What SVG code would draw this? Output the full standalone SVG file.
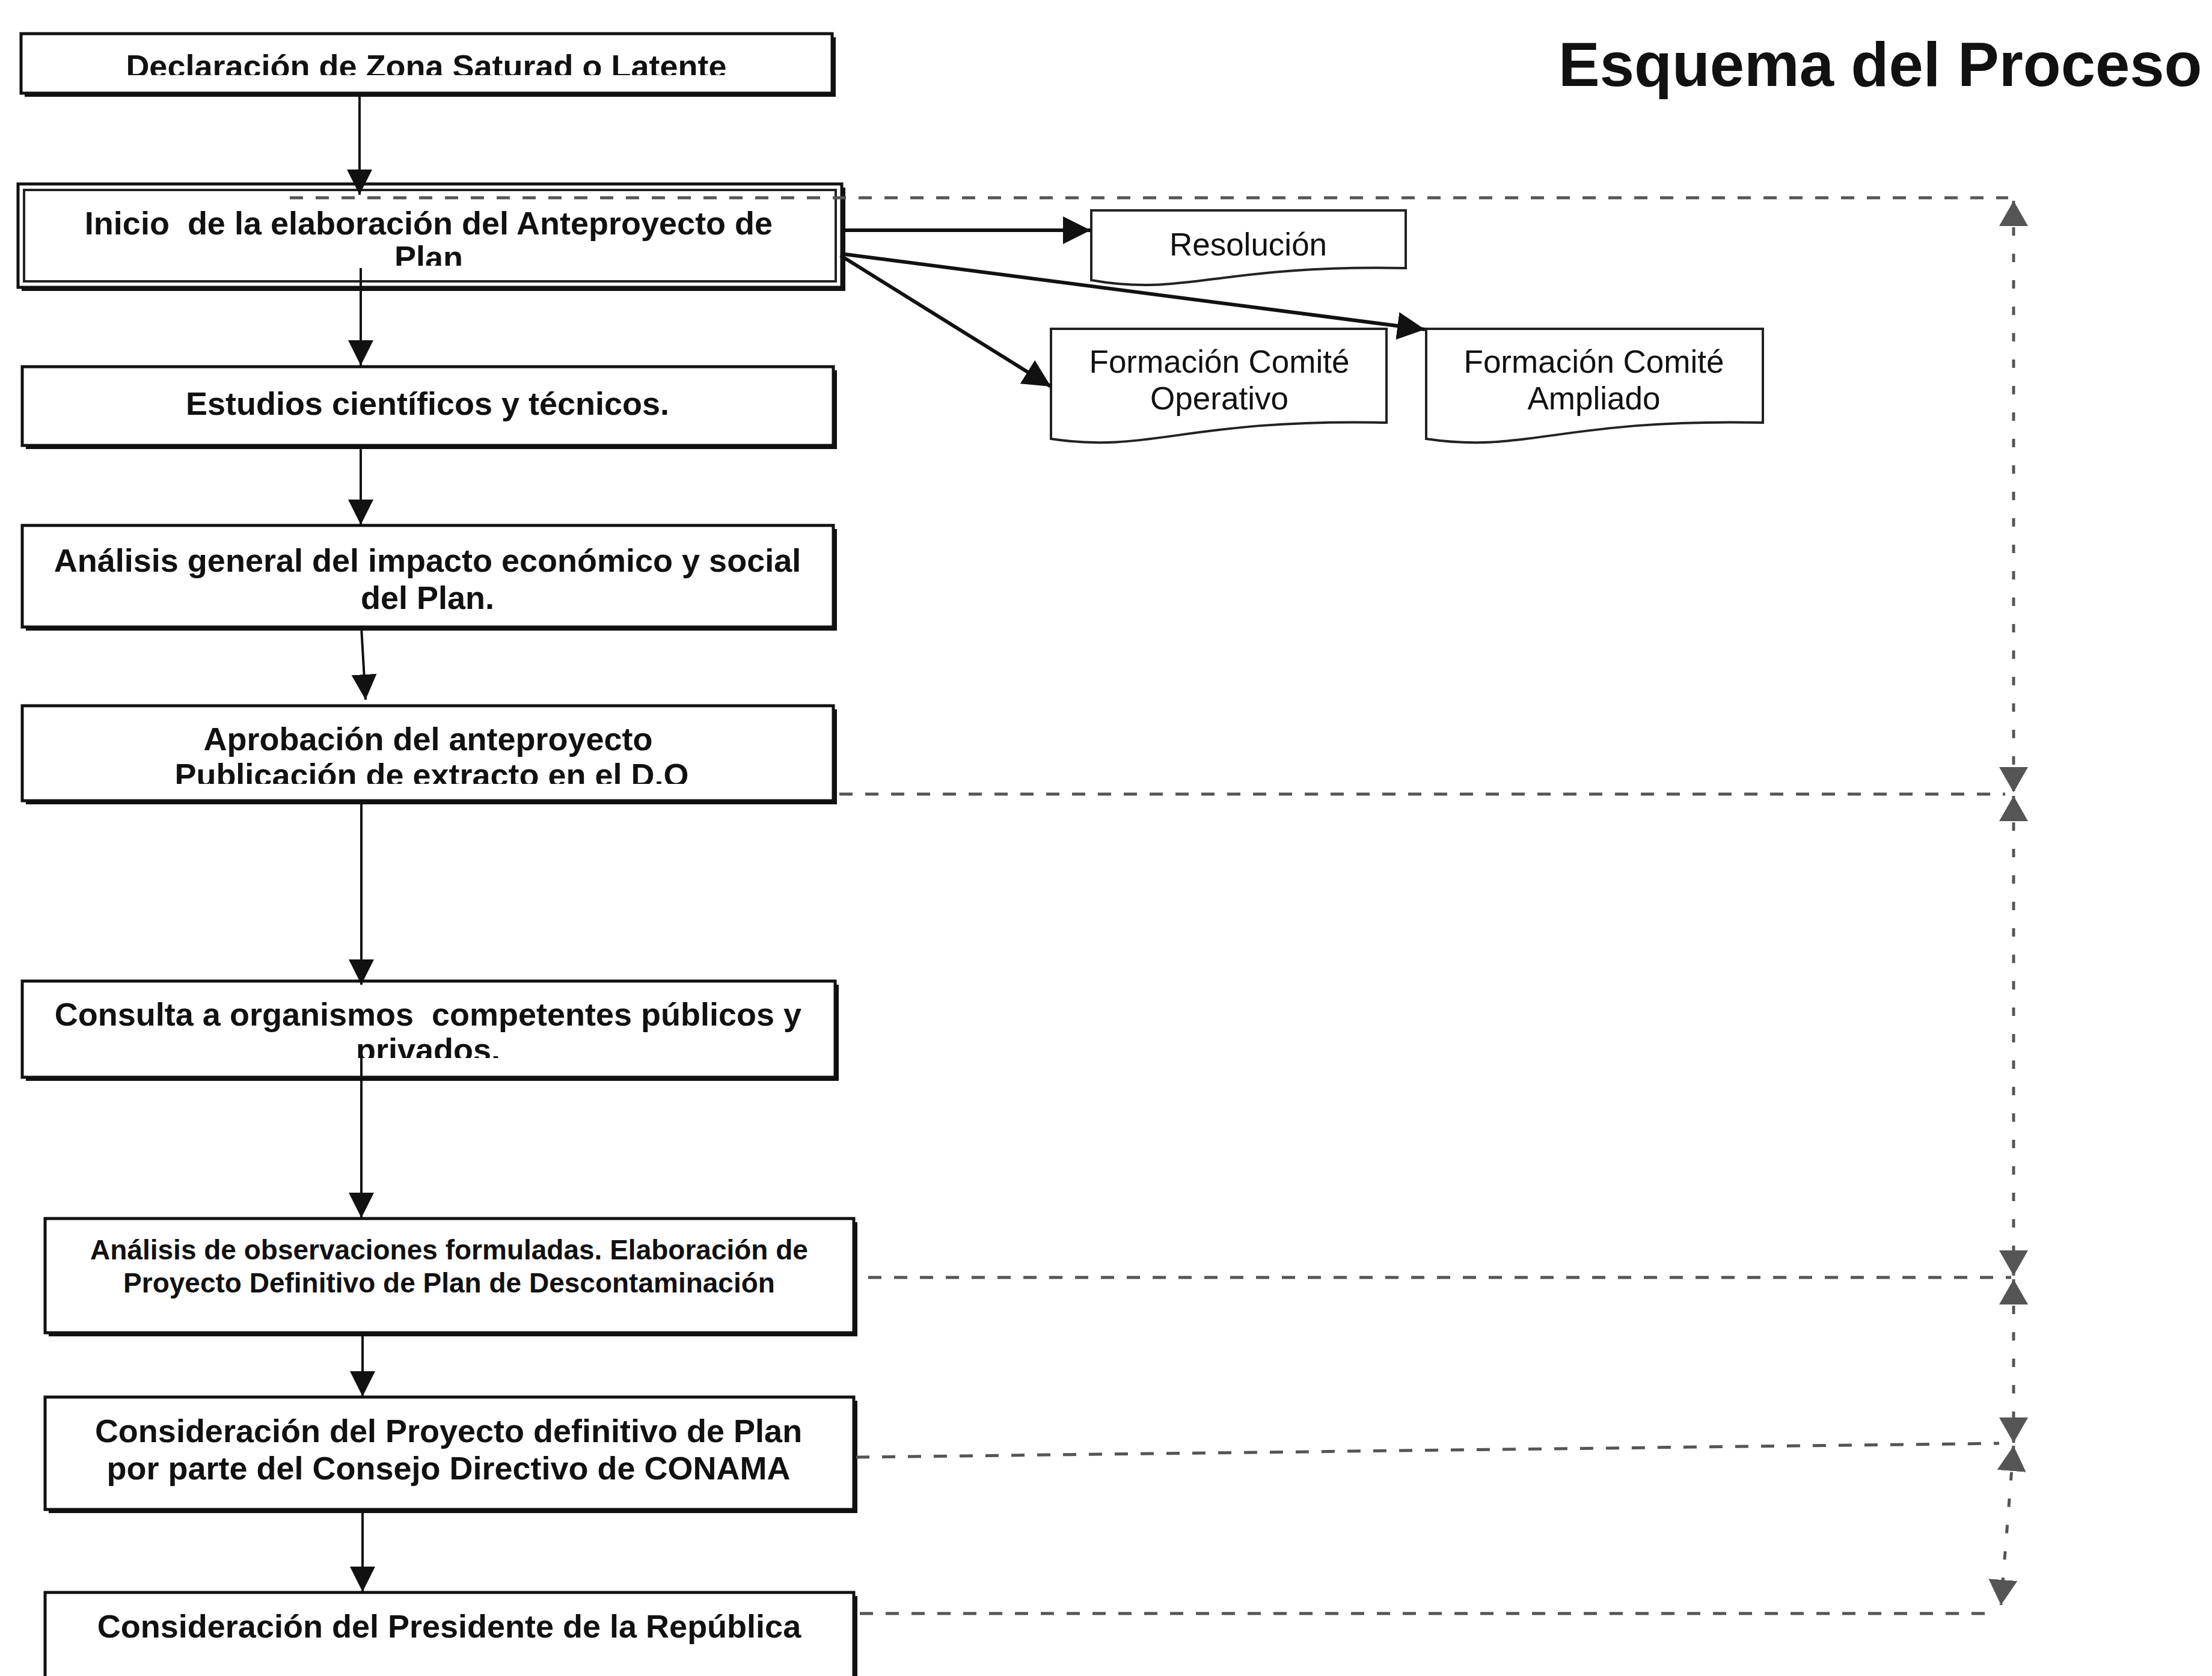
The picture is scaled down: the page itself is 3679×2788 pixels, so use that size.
<svg xmlns="http://www.w3.org/2000/svg" width="3679" height="2788" viewBox="0 0 3679 2788">
<style>
.bg{fill:#ffffff}
.shadow{fill:#111}
.box{fill:#fff;stroke:#111;stroke-width:5}
.box2o{fill:none;stroke:#222;stroke-width:4}
.t{font-family:"Liberation Sans",Arial,sans-serif;font-weight:bold;font-size:54px;fill:#111;text-anchor:middle;white-space:pre}
.ts{font-size:46px}
.tr{font-family:"Liberation Sans",Arial,sans-serif;font-weight:normal;font-size:53px;fill:#111;text-anchor:middle}
.title{font-family:"Liberation Sans",Arial,sans-serif;font-weight:bold;font-size:103px;fill:#111}
.doc{fill:#fff;stroke:#222;stroke-width:4}
.conn{stroke:#111;stroke-width:4;fill:none;marker-end:url(#ah)}
.conn6{stroke:#111;stroke-width:6;fill:none;marker-end:url(#ah2)}
.dash{stroke:#555;stroke-width:5;fill:none;stroke-dasharray:22 21}
.vdash{stroke:#555;stroke-width:5;fill:none;stroke-dasharray:14 30;marker-start:url(#ga);marker-end:url(#ga)}
</style>
<defs>
<marker id="ah" markerUnits="userSpaceOnUse" markerWidth="44" markerHeight="44" refX="42" refY="21" orient="auto"><path d="M0,0 L42,21 L0,42 z" fill="#111"/></marker>
<marker id="ah2" markerUnits="userSpaceOnUse" markerWidth="48" markerHeight="48" refX="46" refY="23" orient="auto"><path d="M0,0 L46,23 L0,46 z" fill="#111"/></marker>
<marker id="ga" markerUnits="userSpaceOnUse" markerWidth="44" markerHeight="50" refX="42" refY="24" orient="auto-start-reverse"><path d="M0,0 L42,24 L0,48 z" fill="#555"/></marker>
<clipPath id="c1"><rect x="35" y="56" width="1349" height="69"/></clipPath>
<clipPath id="c2"><rect x="35" y="321" width="1361" height="121"/></clipPath>
<clipPath id="c5"><rect x="37" y="1174" width="1349" height="130"/></clipPath>
<clipPath id="c6"><rect x="37" y="1632" width="1352" height="128"/></clipPath>
</defs>
<rect class="bg" x="0" y="0" width="3679" height="2788"/>

<g id="title"><text class="title" x="2592" y="143">Esquema del Proceso</text></g>

<g id="n1">
<rect class="shadow" x="41" y="62" width="1349" height="99"/>
<rect class="box" x="35" y="56" width="1349" height="99"/>
<text class="t" x="709" y="129" clip-path="url(#c1)">Declaración de Zona Saturad o Latente</text>
</g>

<g id="n2">
<rect class="shadow" x="36" y="312" width="1370" height="172"/>
<rect class="box" x="30" y="306" width="1370" height="172"/>
<rect class="box2o" x="40" y="316" width="1350" height="152"/>
<text class="t" x="713" y="390" xml:space="preserve">Inicio  de la elaboración del Anteproyecto de</text>
<text class="t" x="713" y="447" clip-path="url(#c2)">Plan</text>
</g>

<g id="n3">
<rect class="shadow" x="43" y="616" width="1349" height="131"/>
<rect class="box" x="37" y="610" width="1349" height="131"/>
<text class="t" x="711" y="690">Estudios científicos y técnicos.</text>
</g>

<g id="n4">
<rect class="shadow" x="43" y="880" width="1349" height="169"/>
<rect class="box" x="37" y="874" width="1349" height="169"/>
<text class="t" x="711" y="951">Análisis general del impacto económico y social</text>
<text class="t" x="711" y="1013">del Plan.</text>
</g>

<g id="n5">
<rect class="shadow" x="43" y="1180" width="1349" height="158"/>
<rect class="box" x="37" y="1174" width="1349" height="158"/>
<text class="t" x="712" y="1248">Aprobación del anteproyecto</text>
<text class="t" x="718" y="1308" clip-path="url(#c5)">Publicación de extracto en el D.O</text>
</g>

<g id="n6">
<rect class="shadow" x="43" y="1638" width="1352" height="160"/>
<rect class="box" x="37" y="1632" width="1352" height="160"/>
<text class="t" x="712" y="1706" xml:space="preserve">Consulta a organismos  competentes públicos y</text>
<text class="t" x="712" y="1765" clip-path="url(#c6)">privados.</text>
</g>

<g id="n7">
<rect class="shadow" x="81" y="2033" width="1345" height="190"/>
<rect class="box" x="75" y="2027" width="1345" height="190"/>
<text class="t ts" x="747" y="2095">Análisis de observaciones formuladas. Elaboración de</text>
<text class="t ts" x="747" y="2150">Proyecto Definitivo de Plan de Descontaminación</text>
</g>

<g id="n8">
<rect class="shadow" x="81" y="2330" width="1345" height="187"/>
<rect class="box" x="75" y="2324" width="1345" height="187"/>
<text class="t" x="746" y="2399">Consideración del Proyecto definitivo de Plan</text>
<text class="t" x="746" y="2461">por parte del Consejo Directivo de CONAMA</text>
</g>

<g id="n9">
<rect class="shadow" x="81" y="2655" width="1345" height="200"/>
<rect class="box" x="75" y="2649" width="1345" height="200"/>
<text class="t" x="747" y="2724">Consideración del Presidente de la República</text>
</g>

<g id="d1">
<path class="doc" d="M1815,350 H2338 V446 C2024,440 1972,494 1815,466 Z"/>
<text class="tr" x="2076" y="425">Resolución</text>
</g>

<g id="d2">
<path class="doc" d="M1748,547 H2306 V703 C1971,696 1915,755 1748,730 Z"/>
<text class="tr" x="2028" y="620">Formación Comité</text>
<text class="tr" x="2028" y="681">Operativo</text>
</g>

<g id="d3">
<path class="doc" d="M2372,547 H2932 V703 C2596,696 2540,755 2372,730 Z"/>
<text class="tr" x="2651" y="620">Formación Comité</text>
<text class="tr" x="2651" y="681">Ampliado</text>
</g>

<g id="connectors">
<line class="conn" x1="598" y1="155" x2="598" y2="324"/>
<line class="conn" x1="600" y1="446" x2="600" y2="608"/>
<line class="conn" x1="600" y1="741" x2="600" y2="873"/>
<line class="conn" x1="601" y1="1044" x2="608" y2="1164"/>
<line class="conn" x1="601" y1="1333" x2="601" y2="1638"/>
<line class="conn" x1="601" y1="1756" x2="601" y2="2026"/>
<line class="conn" x1="603" y1="2217" x2="603" y2="2323"/>
<line class="conn" x1="603" y1="2511" x2="603" y2="2648"/>
<line class="conn6" x1="1398" y1="383" x2="1814" y2="383"/>
<line class="conn6" x1="1398" y1="422" x2="2370" y2="548"/>
<line class="conn6" x1="1398" y1="425" x2="1748" y2="643"/>

<line class="dash" x1="482" y1="329" x2="3340" y2="329"/>
<line class="dash" x1="1396" y1="1321" x2="3335" y2="1321"/>
<line class="dash" x1="1444" y1="2125" x2="3345" y2="2125"/>
<line class="dash" x1="1424" y1="2424" x2="3325" y2="2401"/>
<line class="dash" x1="1430" y1="2684" x2="3318" y2="2684"/>

<line class="vdash" x1="3349" y1="334" x2="3349" y2="1318"/>
<line class="vdash" x1="3349" y1="1324" x2="3349" y2="2122"/>
<line class="vdash" x1="3349" y1="2128" x2="3349" y2="2400"/>
<line class="vdash" x1="3349" y1="2405" x2="3328" y2="2670"/>
</g>
</svg>
